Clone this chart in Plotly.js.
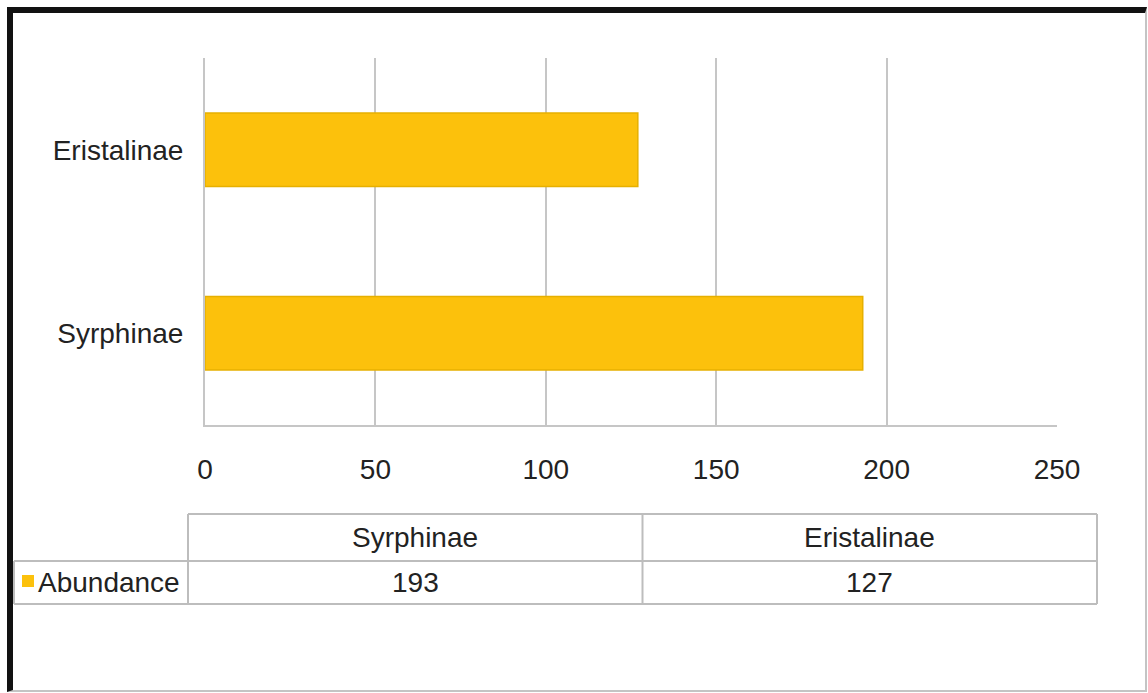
<!DOCTYPE html>
<html>
<head>
<meta charset="utf-8">
<script src="https://cdn.plot.ly/plotly-3.0.1.min.js"></script>
<style>
  html, body { margin: 0; padding: 0; background: #ffffff; }
  #wrap { position: relative; width: 1148px; height: 693px; }
  #chart { position: absolute; left: 0; top: 0; width: 1148px; height: 693px; }
  #frame {
    position: absolute; left: 7px; top: 7px; width: 1140px; height: 685px;
    box-sizing: border-box; pointer-events: none;
    border-top: 6px solid #111111; border-left: 6px solid #111111;
    border-right: 2px solid #c4c4c4; border-bottom: 2px solid #c4c4c4;
  }
</style>
</head>
<body>
<div id="wrap">
  <div id="chart"></div>
  <div id="frame"></div>
</div>
<script>
// Hoverfly subfamilies and their abundance
const categories = ['Syrphinae', 'Eristalinae'];
const values = [193, 127];
const seriesName = 'Abundance';
const xTicks = [0, 50, 100, 150, 200, 250];

const W = 1148, H = 693;
const M = { l: 205, r: 91, t: 58, b: 268 };
const plotW = W - M.l - M.r;
const plotH = H - M.t - M.b;
// convert page pixels to paper coordinates (for the data table under the axis)
const px = x => (x - M.l) / plotW;
const py = y => (H - M.b - y) / plotH;

const barColor = '#FCC10C';
const gridColor = '#c6c6c6';
const textColor = '#222222';
const font = { family: 'Liberation Sans, Arial, sans-serif', size: 28, color: textColor };

const trace = {
  type: 'bar',
  orientation: 'h',
  name: seriesName,
  y: categories,
  x: values,
  marker: { color: barColor, line: { color: '#E6B000', width: 1.5 } },
  hoverinfo: 'x+y'
};

// data table: header row of categories, one row of values
const tblLeft = 188, tblRight = 1097, legLeft = 14;
const rowTop = 514, rowMid = 561, rowBot = 604;
const colW = (tblRight - tblLeft) / categories.length;
const lineStyle = { color: '#bdbdbd', width: 2 };

const shapes = [];
const annotations = [];
const hline = (x0, x1, y) => shapes.push({ type: 'line', xref: 'paper', yref: 'paper',
  x0: px(x0), x1: px(x1), y0: py(y), y1: py(y), line: lineStyle });
const vline = (x, y0, y1) => shapes.push({ type: 'line', xref: 'paper', yref: 'paper',
  x0: px(x), x1: px(x), y0: py(y0), y1: py(y1), line: lineStyle });

hline(tblLeft, tblRight, rowTop);
hline(legLeft, tblRight, rowMid);
hline(legLeft, tblRight, rowBot);
vline(legLeft, rowMid, rowBot);
for (let i = 0; i <= categories.length; i++) {
  vline(tblLeft + i * colW, rowTop, rowBot);
}
categories.forEach((c, i) => {
  const cx = px(tblLeft + (i + 0.5) * colW);
  annotations.push({ xref: 'paper', yref: 'paper', x: cx, y: py((rowTop + rowMid) / 2),
    text: c, showarrow: false, font: font, xanchor: 'center', yanchor: 'middle' });
  annotations.push({ xref: 'paper', yref: 'paper', x: cx, y: py((rowMid + rowBot) / 2),
    text: String(values[i]), showarrow: false, font: font, xanchor: 'center', yanchor: 'middle' });
});
// legend key in the table's row header
shapes.push({ type: 'rect', xref: 'paper', yref: 'paper',
  x0: px(22), x1: px(34), y0: py(587), y1: py(575),
  fillcolor: barColor, line: { width: 0 } });
annotations.push({ xref: 'paper', yref: 'paper', x: px(36), y: py((rowMid + rowBot) / 2),
  text: seriesName, showarrow: false, font: font, xanchor: 'left', yanchor: 'middle' });

const layout = {
  width: W, height: H,
  margin: M,
  paper_bgcolor: '#ffffff',
  plot_bgcolor: '#ffffff',
  showlegend: false,
  bargap: 0.6,
  font: font,
  xaxis: {
    range: [0, 250],
    tickvals: xTicks,
    ticktext: xTicks.map(String),
    showgrid: true, gridcolor: gridColor, gridwidth: 2,
    zeroline: false,
    showline: true, linecolor: gridColor, linewidth: 2,
    ticks: '', ticklabelstandoff: 18,
    tickfont: font, fixedrange: true
  },
  yaxis: {
    type: 'category',
    categoryorder: 'array', categoryarray: categories,
    showgrid: false, zeroline: false,
    showline: true, linecolor: gridColor, linewidth: 2,
    ticks: '', ticklabelstandoff: 14,
    tickfont: font, fixedrange: true
  },
  shapes: shapes,
  annotations: annotations
};

Plotly.newPlot('chart', [trace], layout, { displayModeBar: false, staticPlot: true });
</script>
</body>
</html>
